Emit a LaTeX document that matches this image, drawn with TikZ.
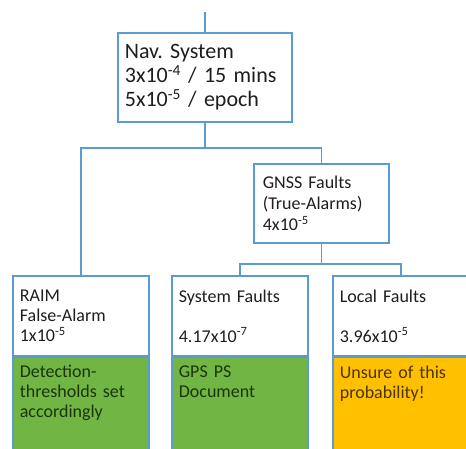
\documentclass[tikz,border=0pt]{standalone}
\usepackage{fontspec}
\setmainfont{Carlito}
\usepackage{xcolor}
\definecolor{edge}{HTML}{5B9BD5}
\definecolor{ink}{HTML}{1E1E1E}
\definecolor{okfill}{HTML}{71B544}
\definecolor{okink}{HTML}{1A350A}
\definecolor{askfill}{HTML}{FFC000}
\definecolor{askink}{HTML}{4D3300}
\frenchspacing

\begin{document}
\begin{tikzpicture}[x=1pt, y=1pt]
  % --- page frame: one unit is one pixel, y counted from the bottom ---------
  \def\rowy{174}   % top edge of the bottom row (449-275)
  \def\bw{122pt}   % text width of a bottom box, 7pt padding each side

  \tikzset{
    tree/.style={draw=edge, line width=1.7pt},
    boxbase/.style={tree, rectangle, anchor=north west, align=left,
      inner ysep=0pt},
    navbox/.style={boxbase, fill=white, text=ink, text width=160pt,
      inner xsep=7pt, minimum height=89pt,
      font=\fontsize{22}{24}\selectfont},
    gnssbox/.style={boxbase, fill=white, text=ink, text width=117pt,
      inner xsep=9pt, minimum height=79pt,
      font=\fontsize{18}{21}\selectfont},
    faultbox/.style={boxbase, fill=white, text=ink, text width=\bw,
      inner xsep=7pt, minimum height=80pt,
      font=\fontsize{18}{20}\selectfont},
    notebox/.style={boxbase, text width=\bw, inner xsep=7pt,
      inner ysep=8pt, text depth=80pt,
      font=\fontsize{18}{20}\selectfont},
    oknote/.style={notebox, fill=okfill, text=okink},
    asknote/.style={notebox, fill=askfill, text=askink}}

  \useasboundingbox (0,0) rectangle (466,449);
  \clip (0,0) rectangle (466,449);
  \fill[white] (0,0) rectangle (466,449);

  % ---- 1. the top event -----------------------------------------------------
  \node[navbox] (nav) at (117,417)
    {Nav. System\\3x10\textsuperscript{-4} / 15 mins\\5x10\textsuperscript{-5} / epoch};
  \coordinate (feed) at ([yshift=20pt]nav.north);

  % ---- 2. the GNSS branch ---------------------------------------------------
  \node[gnssbox] (gnss) at (253,286)
    {GNSS Faults\\(True-Alarms)\\4x10\textsuperscript{-5}};

  % ---- 3. the bottom row, white part on top of a coloured note -------------
  \node[faultbox] (raim) at (12,\rowy)
    {RAIM\\False-Alarm\\1x10\textsuperscript{-5}};
  \node[faultbox] (sys) at (171,\rowy)
    {System Faults\\\mbox{}\\4.17x10\textsuperscript{-7}};
  \node[faultbox] (local) at (332,\rowy)
    {Local Faults\\\mbox{}\\3.96x10\textsuperscript{-5}};

  \node[oknote] (raimnote) at (raim.south west)
    {Detection-\\thresholds set\\accordingly};
  \node[oknote] (sysnote) at (sys.south west)
    {GPS PS\\Document};
  \node[asknote] (localnote) at (local.south west)
    {Unsure of this\\probability!};

  % ---- 4. the connectors ----------------------------------------------------
  \coordinate (split1) at ([yshift=-25pt]nav.south);
  \coordinate (split2) at ([yshift=-20pt]gnss.south);
  \draw[tree] (feed) -- (nav.north);
  \draw[tree] (nav.south) -- (split1);
  \draw[tree] (split1) -| (raim.north);
  \draw[tree] (split1) -| (gnss.north);
  \draw[tree] (gnss.south) -- (split2);
  \draw[tree] (split2) -| (sys.north);
  \draw[tree] (split2) -| (local.north);
\end{tikzpicture}
\end{document}
